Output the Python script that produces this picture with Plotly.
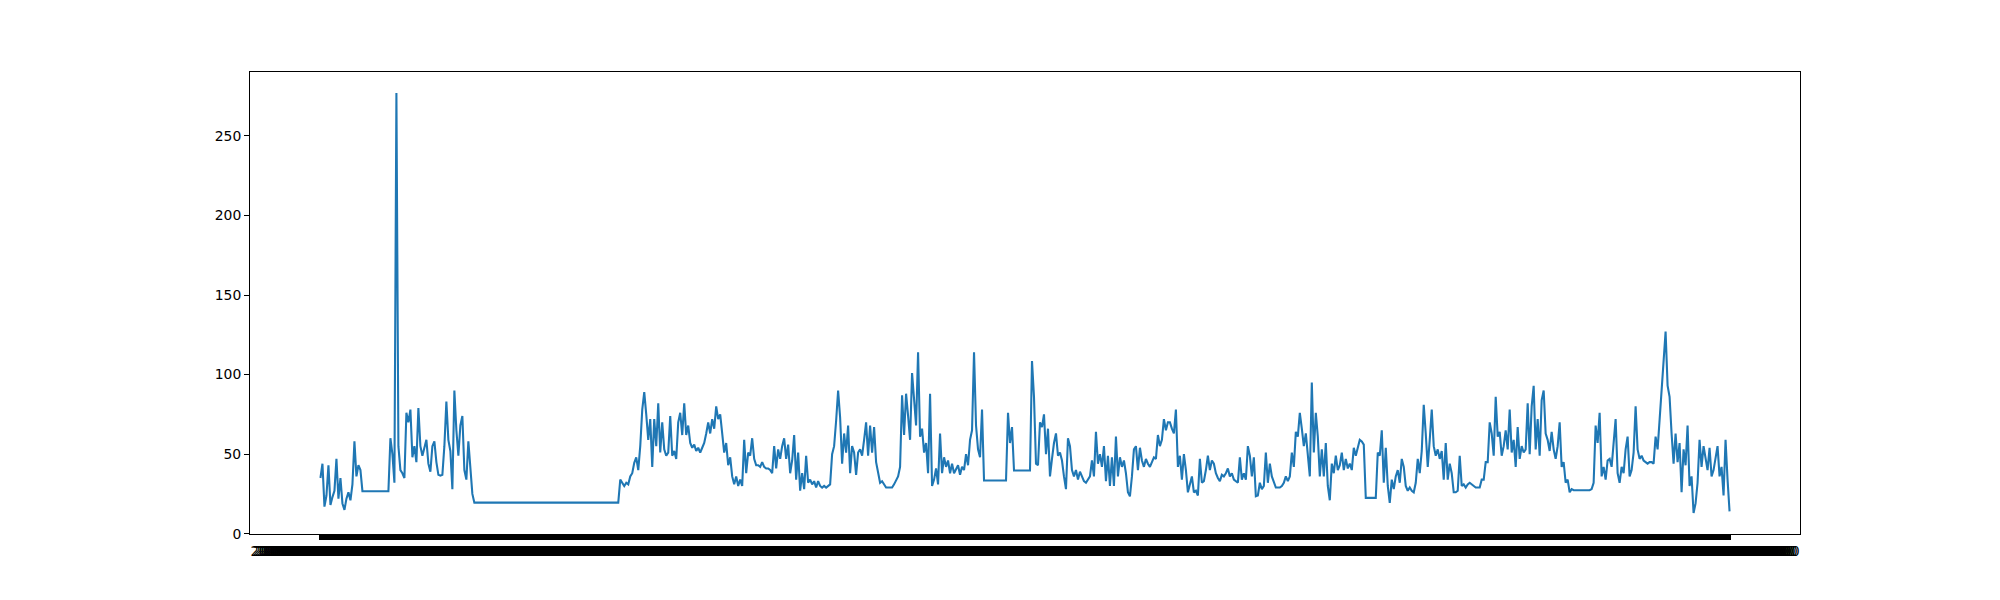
import pandas as pd
import plotly.graph_objects as go

# ---- series values, in order ----
part1 = [35, 44, 17, 24, 43, 18, 23, 27, 47, 22,
         35, 19, 15, 22, 26, 21, 31, 58, 36, 43,
         40, 26.7, 26.7, 26.7, 26.7, 26.7, 26.7, 26.7, 26.7, 26.7,
         26.7, 26.7, 26.7, 26.7, 26.7, 60, 50, 32, 277, 55,
         40, 38, 35, 76, 70, 78, 48, 55, 45, 79,
         55, 49, 55, 59, 44, 39, 55, 58, 45, 37,
         36.5, 37, 55, 83, 59, 52, 28, 90, 65, 49,
         68, 74, 40, 34, 58, 38, 25]

flat1 = [19.5, 19.5, 19.5, 19.5, 19.5, 19.5, 19.5, 19.5, 19.5, 19.5,
         19.5, 19.5, 19.5, 19.5, 19.5, 19.5, 19.5, 19.5, 19.5, 19.5,
         19.5, 19.5, 19.5, 19.5, 19.5, 19.5, 19.5, 19.5, 19.5, 19.5,
         19.5, 19.5, 19.5, 19.5, 19.5, 19.5, 19.5, 19.5, 19.5, 19.5,
         19.5, 19.5, 19.5, 19.5, 19.5, 19.5, 19.5, 19.5, 19.5, 19.5,
         19.5, 19.5, 19.5, 19.5, 19.5, 19.5, 19.5, 19.5, 19.5, 19.5,
         19.5, 19.5, 19.5, 19.5, 19.5, 19.5, 19.5, 19.5, 19.5, 19.5,
         19.5, 19.5, 19.5]

part2 = [34, 31.9, 30, 32, 31, 36, 38, 44.5, 48, 40,
         55, 78, 89, 75, 59, 72, 42, 72, 55, 82,
         51, 70, 53, 49, 51, 74, 49, 52, 47, 70,
         76, 62, 82, 62, 68, 57, 54, 56, 52, 54,
         51, 54, 57, 63, 70, 63, 72, 66, 80, 72,
         75, 63, 51, 57, 43, 48, 36, 31, 36, 30,
         34, 30, 59, 38, 51, 49, 60, 47, 43, 43,
         42, 45, 42, 41, 41, 40, 38, 55, 41, 53,
         47, 55, 60, 47, 56, 38, 46, 62, 34, 51,
         27, 38, 28, 49, 32, 34, 31, 33, 29, 33,
         30, 29, 30, 29, 30, 31, 50, 55, 71, 90,
         73, 44, 63, 51, 68, 38, 55, 51, 37, 51,
         53, 49, 59, 70, 49, 68, 51, 67, 45, 38,
         32, 33, 31]

part3 = [29, 29, 29, 29, 31, 34, 36, 42, 87, 62,
         88, 74, 59, 101, 81, 68, 114, 61, 66, 51,
         57, 38, 88, 30, 34, 41, 31, 63, 38, 48,
         42, 46, 38, 44, 38, 41, 43, 37, 42, 40,
         50, 43, 59, 65, 114, 68, 53, 48, 78, 33.4,
         33.4, 33.4, 33.4, 33.4, 33.4, 33.4, 33.4, 33.4, 33.4, 33.4,
         33.4, 76, 57, 67, 39.7, 39.7, 39.7, 39.7, 39.7, 39.7,
         39.7, 39.7, 39.7, 108.5, 86, 44, 43, 70, 67, 75,
         50, 66, 36, 47, 57, 63, 49, 51, 46, 36,
         28, 60, 55, 40, 36, 40, 34, 39, 36, 33,
         32, 34, 36, 46, 36, 64, 44, 50, 42, 55,
         33, 49, 30, 48, 30, 61, 36, 48, 42, 46,
         38, 26, 23.5, 36, 53, 55, 40, 54, 46, 42,
         47, 44, 42, 45, 48, 47, 62, 55, 59, 72,
         65, 70]

part4 = [70, 66, 63, 78, 42, 49, 34, 50, 40, 26,
         32, 36, 26, 27, 24, 47, 32, 33, 40, 49,
         40, 46, 44, 38, 35, 33, 37, 36, 38, 41,
         36, 38, 34, 33, 32, 48, 34, 38, 34, 55,
         49, 36, 48, 23.5, 24, 32, 28, 30, 51, 32,
         44, 36, 32, 29, 29, 29, 30, 32, 36, 33,
         36, 51, 42, 64, 61, 76, 66, 55, 63, 51,
         36, 95, 51, 76, 61, 36, 53, 36, 57, 30,
         21, 44, 38, 49, 40, 43, 51, 40, 47, 41,
         44, 40, 54, 49, 54, 59, 58, 56, 22.5, 22.5,
         22.5, 22.5, 22.5, 22.5, 51, 49, 65, 32, 54, 30,
         19.3, 34, 28, 36, 40, 32, 47, 42, 30, 27,
         29, 27, 26, 32, 47, 38, 52, 81, 63, 42,
         59, 78, 55, 49, 53, 47, 52, 34, 57, 34,
         44, 38, 26]

part5 = [26, 27, 49, 30, 31, 29, 31, 32, 31, 30,
         29, 29, 29, 34, 34, 45, 45, 70, 63, 49,
         86, 61, 64, 49, 55, 65, 53, 78, 51, 59,
         42, 67, 47, 55, 51, 53, 82, 50, 80, 93,
         53, 72, 49, 84, 90, 63, 59, 52, 64, 53,
         47, 55, 70, 42, 45, 32, 34, 26, 28, 27.3,
         27.3, 27.3, 27.3, 27.3, 27.3, 27.3, 27.3, 27.3, 28, 32,
         68, 57, 76, 36, 42, 34, 46, 47, 42, 55,
         72, 38, 32, 42, 38, 53, 61, 36, 40, 51,
         80, 53, 47, 49, 46, 45, 44, 45, 45, 44,
         61, 53, 72, 91, 103, 127, 93, 86, 63, 44,
         63, 45, 57, 26, 53, 43, 68, 30, 36, 13,
         19, 32, 59, 42, 55, 47, 40, 54, 36, 40,
         47, 55, 36, 42, 24, 59, 34, 14]

values = part1 + flat1 + part2 + part3 + part4 + part5
n = len(values)

# category labels (one per point, all drawn -> overlapping band like the original)
categories = list(pd.date_range("2019-01-01", periods=n, freq="h").strftime("%Y-%m-%d %H:%M:%S"))

y_ticks = [0, 50, 100, 150, 200, 250]

vmin, vmax = min(values), max(values)
ypad = 0.05 * (vmax - vmin)
xpad = 0.05 * (n - 1)

fig = go.Figure()
fig.add_trace(go.Scatter(x=categories, y=values, mode="lines",
                         line=dict(color="#1f77b4", width=2.08),
                         showlegend=False))

font = dict(family="DejaVu Sans", size=13.9, color="black")
fig.update_layout(
    width=2000, height=600,
    margin=dict(l=242, r=208, t=64, b=74),
    paper_bgcolor="white", plot_bgcolor="white",
    font=font, showlegend=False,
)
fig.update_xaxes(
    type="category", range=[-xpad, (n - 1) + xpad],
    tickmode="array", tickvals=categories, ticktext=categories,
    tickangle=0, ticks="outside", ticklen=5, tickwidth=2, tickcolor="black",
    tickfont=dict(family="DejaVu Sans", size=13.2, color="black"),
    showgrid=False, zeroline=False,
    showline=True, linecolor="black", linewidth=1, mirror=True,
)
fig.update_yaxes(
    range=[vmin - ypad, vmax + ypad],
    tickmode="array", tickvals=y_ticks, ticktext=[str(t) for t in y_ticks],
    ticks="outside", ticklen=5, tickwidth=1, tickcolor="black",
    tickfont=font,
    showgrid=False, zeroline=False,
    showline=True, linecolor="black", linewidth=1, mirror=True,
)

fig.write_html("out.html")
